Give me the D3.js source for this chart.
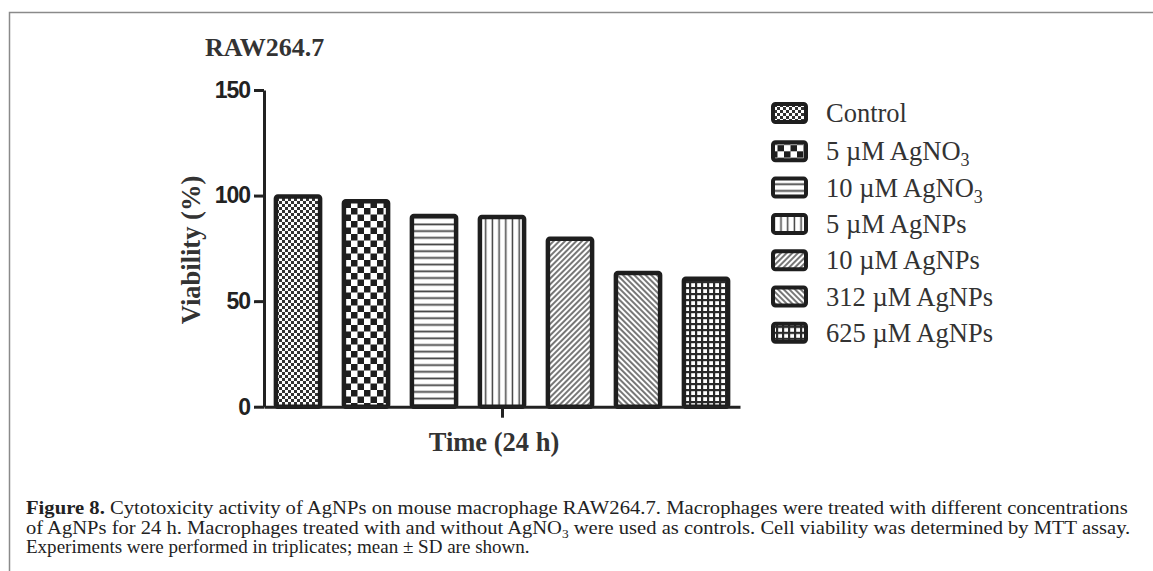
<!DOCTYPE html>
<html>
<head>
<meta charset="utf-8">
<script src="https://cdn.jsdelivr.net/npm/d3@7"></script>
<style>
  body { margin: 0; background: #fff; }
  svg { display: block; }
  .serif { font-family: "Liberation Serif", "DejaVu Serif", serif; }
  .axis-y text { font-family: "Liberation Sans", Arial, sans-serif; font-weight: bold; font-size: 23px; letter-spacing: -1px; fill: #222; }
  .axis path, .axis line { stroke: #222; }
</style>
</head>
<body>
<svg id="chart" width="1153" height="571"></svg>
<script>
// data ------------------------------------------------------------
const categories = ["Control", "5 µM AgNO3", "10 µM AgNO3", "5 µM AgNPs", "10 µM AgNPs", "312 µM AgNPs", "625 µM AgNPs"];
const viability = [99.5, 97.3, 90.3, 89.9, 79.6, 63.3, 60.6];
const yTicks = [0, 50, 100, 150];
const timeGroup = ["24 h"];
const captionLines = [
  [["Figure 8.", true], [" Cytotoxicity activity of AgNPs on mouse macrophage RAW264.7. Macrophages were treated with different concentrations", false]],
  [["of AgNPs for 24  h. Macrophages treated with and without AgNO", false], ["3", false, "sub"], [" were used as controls. Cell viability was determined by MTT assay.", false]],
  [["Experiments were performed in triplicates; mean ± SD are shown.", false]]
];
const captionWidths = [1102, 1105, 504];

const svg = d3.select("#chart");
const ink = "#1e1e1e";

// frame
svg.append("rect")
    .attr("x", 9.5).attr("y", 12.5)
    .attr("width", 1200).attr("height", 600)
    .attr("fill", "none").attr("stroke", "#8a8a8a").attr("stroke-width", 1.5);

// Patterns --------------------------------------------------------
const defs = svg.append("defs");
const patIds = categories.map((d, i) => `pat-${i}`);

function pattern(id, w, h, transform) {
  const p = defs.append("pattern")
      .attr("id", id)
      .attr("patternUnits", "userSpaceOnUse")
      .attr("width", w).attr("height", h);
  if (transform) p.attr("patternTransform", transform);
  p.append("rect").attr("width", w).attr("height", h).attr("fill", "#fff");
  return p;
}

// fine checker
let p = pattern(patIds[0], 6, 6);
p.append("rect").attr("width", 3).attr("height", 3).attr("fill", "#333");
p.append("rect").attr("x", 3).attr("y", 3).attr("width", 3).attr("height", 3).attr("fill", "#333");
// coarse checker
p = pattern(patIds[1], 13, 13);
p.append("rect").attr("width", 6.5).attr("height", 6.5).attr("fill", "#1e1e1e");
p.append("rect").attr("x", 6.5).attr("y", 6.5).attr("width", 6.5).attr("height", 6.5).attr("fill", "#1e1e1e");
// horizontal lines
p = pattern(patIds[2], 10, 6.7);
p.append("line").attr("x1", 0).attr("x2", 10).attr("y1", 3.3).attr("y2", 3.3)
    .attr("stroke", "#444").attr("stroke-width", 1.8);
// vertical lines
p = pattern(patIds[3], 6.7, 10);
p.append("line").attr("x1", 3.3).attr("x2", 3.3).attr("y1", 0).attr("y2", 10)
    .attr("stroke", "#444").attr("stroke-width", 1.5);
// "/" diagonal
p = pattern(patIds[4], 4, 4, "rotate(45)");
p.append("line").attr("x1", 2).attr("x2", 2).attr("y1", 0).attr("y2", 4)
    .attr("stroke", "#555").attr("stroke-width", 1.6);
// "\" diagonal
p = pattern(patIds[5], 4, 4, "rotate(-45)");
p.append("line").attr("x1", 2).attr("x2", 2).attr("y1", 0).attr("y2", 4)
    .attr("stroke", "#555").attr("stroke-width", 1.6);
// grid
p = pattern(patIds[6], 6, 6);
p.select("rect").attr("fill", "#2a2a2a");
p.append("rect").attr("x", 1.2).attr("y", 1.2).attr("width", 3.8).attr("height", 3.8).attr("fill", "#fff");

// Scales ----------------------------------------------------------
const y = d3.scaleLinear().domain([0, 150]).range([406.7, 90]);
const x = d3.scaleBand().domain(categories).range([264, 740])
    .paddingInner(0.35).paddingOuter(0.175);
const xTime = d3.scalePoint().domain(timeGroup).range([264, 740]).padding(0.5);

// Bars ------------------------------------------------------------
svg.append("g").selectAll("rect")
  .data(categories)
  .join("rect")
    .attr("x", d => x(d))
    .attr("y", (d, i) => y(viability[i]))
    .attr("width", x.bandwidth())
    .attr("height", (d, i) => y(0) - y(viability[i]))
    .attr("rx", 2)
    .attr("fill", (d, i) => `url(#${patIds[i]})`)
    .attr("stroke", ink)
    .attr("stroke-width", 4.5);

// Axes ------------------------------------------------------------
const yAxis = svg.append("g")
    .attr("class", "axis axis-y")
    .attr("transform", "translate(264,0)")
    .call(d3.axisLeft(y).tickValues(yTicks).tickSize(10).tickSizeOuter(0).tickPadding(4));
yAxis.selectAll("path, line").attr("stroke-width", 3);

const xAxis = svg.append("g")
    .attr("class", "axis")
    .attr("transform", `translate(0,${y(0)})`)
    .call(d3.axisBottom(xTime).tickSize(11).tickSizeOuter(0).tickFormat(""));
xAxis.selectAll("path, line").attr("stroke-width", 3);

// Titles ----------------------------------------------------------
svg.append("text")
    .attr("class", "serif")
    .attr("x", 205).attr("y", 56)
    .attr("font-size", 26).attr("font-weight", "bold").attr("fill", "#333")
    .text("RAW264.7");

svg.append("text")
    .attr("class", "serif")
    .attr("transform", "translate(200,250) rotate(-90)")
    .attr("text-anchor", "middle")
    .attr("font-size", 26.5).attr("font-weight", "bold").attr("fill", "#333")
    .text("Viability (%)");

svg.append("text")
    .attr("class", "serif")
    .attr("x", xTime(timeGroup[0]) - 8).attr("y", 451)
    .attr("text-anchor", "middle")
    .attr("font-size", 26.5).attr("font-weight", "bold").attr("fill", "#333")
    .text("Time (24 h)");

// Legend ----------------------------------------------------------
const legend = svg.append("g").attr("transform", "translate(771,113)");
const rowH = 36.3;

legend.selectAll("g.item")
  .data(categories)
  .join("g")
    .attr("class", "item")
    .attr("transform", (d, i) => `translate(0,${i * rowH + (i > 0 ? 2 : 0)})`)
  .each(function(d, i) {
    const g = d3.select(this);
    g.append("rect")
        .attr("x", 2).attr("y", -9)
        .attr("width", 33).attr("height", 18)
        .attr("rx", 2.5)
        .attr("fill", `url(#${patIds[i]})`)
        .attr("stroke", ink).attr("stroke-width", 4);
    const t = g.append("text")
        .attr("class", "serif")
        .attr("x", 55).attr("y", 9)
        .attr("font-size", 26.5).attr("fill", "#333");
    const m = /^(.*NO)(3)$/.exec(d);
    if (m) {
      t.append("tspan").text(m[1]);
      t.append("tspan").attr("font-size", 18).attr("dy", 6).text(m[2]);
    } else {
      t.text(d);
    }
  });

// Caption ---------------------------------------------------------
captionLines.forEach((parts, i) => {
  const t = svg.append("text")
      .attr("class", "serif")
      .attr("font-size", 18.5).attr("fill", "#222");
  parts.forEach((part, j) => {
    const s = t.append("tspan")
        .attr("font-weight", part[1] ? "bold" : "normal")
        .text(part[0]);
    if (part[2] === "sub") {
      s.attr("font-size", 12).attr("dy", 4);
    } else if (j > 0 && parts[j - 1][2] === "sub") {
      s.attr("dy", -4);
    }
  });
  const w = t.node().getComputedTextLength();
  t.attr("transform", `translate(26,${514 + i * 19.5}) scale(${captionWidths[i] / w},1)`);
});
</script>
</body>
</html>
